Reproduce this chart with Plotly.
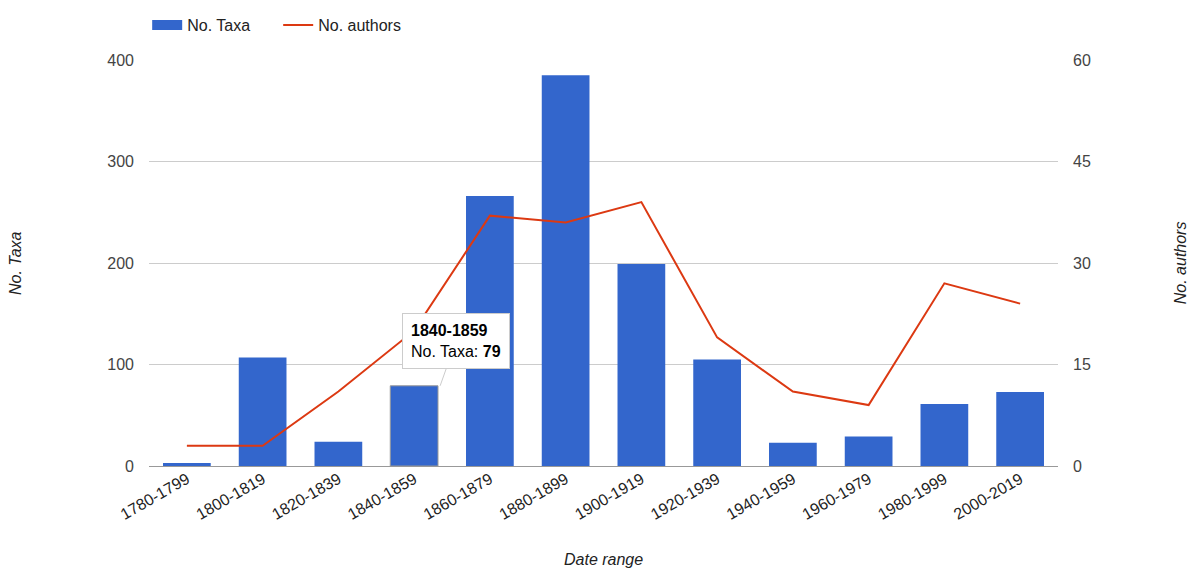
import plotly.graph_objects as go

categories = ["1780-1799", "1800-1819", "1820-1839", "1840-1859", "1860-1879", "1880-1899",
              "1900-1919", "1920-1939", "1940-1959", "1960-1979", "1980-1999", "2000-2019"]
taxa = [3, 107, 24, 79, 266, 385, 199, 105, 23, 29, 61, 73]
authors = [3, 3, 11, 20, 37, 36, 39, 19, 11, 9, 27, 24]

BLUE = "#3366CC"
RED = "#DC3912"
FONT = "Arial, Liberation Sans, sans-serif"

fig = go.Figure()
fig.add_trace(go.Bar(x=categories, y=taxa, name="No. Taxa", marker_color=BLUE,
                     marker_line_width=0, width=0.63, yaxis="y", showlegend=False))
# legend swatch for bars (rectangle-like)
fig.add_trace(go.Scatter(x=[None], y=[None], mode="lines", name="No. Taxa",
                         line=dict(color=BLUE, width=16), yaxis="y"))
fig.add_trace(go.Scatter(x=categories, y=authors, name="No. authors", mode="lines",
                         line=dict(color=RED, width=2), yaxis="y2"))

# highlighted bar outline (hover state)
hl = 3
fig.add_trace(go.Bar(x=[categories[hl]], y=[taxa[hl]], marker_color="rgba(0,0,0,0)",
                     marker_line=dict(color="#999999", width=1), width=0.63,
                     showlegend=False, hoverinfo="skip", yaxis="y"))

# page body has an 8px default margin; size the figure to compensate
fig.update_layout(
    width=1190, height=562,
    margin=dict(l=141, r=140, t=52, b=104, autoexpand=False),
    paper_bgcolor="white", plot_bgcolor="white",
    font=dict(family=FONT, size=16, color="#444444"),
    barmode="overlay",
    showlegend=True,
    legend=dict(orientation="h", x=-0.002, y=1.086, xanchor="left", yanchor="middle",
                font=dict(size=16, color="#222222"), traceorder="normal",
                bgcolor="rgba(0,0,0,0)", itemwidth=30, entrywidth=86),
    xaxis=dict(type="category", tickangle=-30, showgrid=False, ticks="", automargin=False,
               tickfont=dict(size=16, color="#222222"), showline=False),
    yaxis=dict(range=[0, 400], tickvals=[0, 100, 200, 300, 400], gridcolor="#cccccc",
               zeroline=True, zerolinecolor="#999999", zerolinewidth=1, automargin=False,
               tickfont=dict(size=16, color="#444444"), ticks="", showline=False,
               ticklabelstandoff=14),
    yaxis2=dict(range=[0, 60], tickvals=[0, 15, 30, 45, 60], overlaying="y", side="right",
                showgrid=False, zeroline=False, tickfont=dict(size=16, color="#444444"),
                ticks="", showline=False, ticklabelstandoff=14, automargin=False),
)

annotations = [
    dict(text="<i>No. Taxa</i>", xref="paper", yref="paper", x=-0.1474, y=0.5,
         xanchor="center", yanchor="middle",
         textangle=-90, showarrow=False, font=dict(size=16, color="#222222")),
    dict(text="<i>No. authors</i>", xref="paper", yref="paper", x=1.1345, y=0.5,
         xanchor="center", yanchor="middle",
         textangle=-90, showarrow=False, font=dict(size=16, color="#222222")),
    dict(text="<i>Date range</i>", xref="paper", yref="paper", x=0.5, y=-0.2315,
         xanchor="center", yanchor="middle",
         showarrow=False, font=dict(size=16, color="#222222")),
    dict(text="<b>1840-1859</b><br>No. Taxa: <b>79</b>", xref="x", yref="y",
         x=categories[hl], y=taxa[hl], xshift=26, ax=16, ay=-45,
         showarrow=True, arrowhead=0, arrowwidth=1, arrowcolor="#cccccc",
         bgcolor="white", bordercolor="#cccccc", borderwidth=1, borderpad=8,
         align="left", font=dict(size=16, color="#000000")),
]
fig.update_layout(annotations=annotations)

fig.write_html("out.html")
